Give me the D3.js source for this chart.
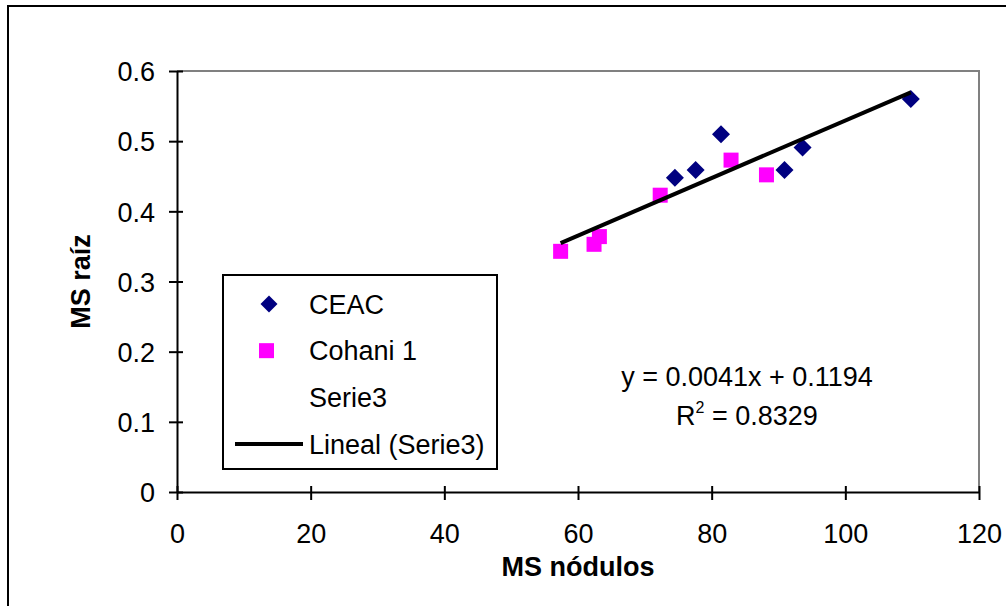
<!DOCTYPE html>
<html>
<head>
<meta charset="utf-8">
<script src="https://cdn.jsdelivr.net/npm/d3@7"></script>
<style>
  body { margin: 0; background: #fff; }
  svg { display: block; font-family: "Liberation Sans", Arial, sans-serif; }
</style>
</head>
<body>
<svg id="chart" width="1006" height="606"></svg>
<script>
// MS raiz vs MS nodulos -- scatter with linear trend

var ceacX = [74.5, 77.6, 81.4, 90.9, 93.6, 109.8];
var ceacY = [0.448, 0.459, 0.510, 0.459, 0.491, 0.560];

var cohaniX = [57.4, 62.4, 63.2, 72.3, 82.9, 88.2];
var cohaniY = [0.343, 0.353, 0.364, 0.423, 0.473, 0.452];

// trendline of Serie3 (both groups together), as printed on the chart
var trendSlope = 0.0041;
var trendIntercept = 0.1194;
var trendR2 = 0.8329;

var xTicks = [0, 20, 40, 60, 80, 100, 120];
var yTicks = [0, 0.1, 0.2, 0.3, 0.4, 0.5, 0.6];

var legendLabels = ["CEAC", "Cohani 1", "Serie3", "Lineal (Serie3)"];

// plot area edges (don't call these top/left -- window.top is taken)
var plotL = 177, plotR = 979, plotT = 71, plotB = 492;
var fontSize = "27px";

var svg = d3.select("#chart");

// outer chart frame (runs off the picture on right and bottom)
svg.append("rect")
  .attr("x", 8).attr("y", 6)
  .attr("width", 1010).attr("height", 620)
  .attr("fill", "#fff")
  .attr("stroke", "#000")
  .attr("stroke-width", 2);

var x = d3.scaleLinear().domain([0, 120]).range([plotL, plotR]);
var y = d3.scaleLinear().domain([0, 0.6]).range([plotB, plotT]);

// plot area border, grey on top and right
svg.append("path")
  .attr("d", "M" + plotL + "," + plotT + "H" + plotR + "V" + plotB)
  .attr("fill", "none")
  .attr("stroke", "#808080")
  .attr("stroke-width", 2);

///////////////////////////////////////////////////////////////////////////////
// Axes

var xAxis = svg.append("g")
  .attr("transform", "translate(0," + plotB + ")")
  .call(d3.axisBottom(x).tickValues(xTicks).tickSizeOuter(0).tickPadding(14));
xAxis.selectAll(".tick line").attr("y1", -6).attr("y2", 8);

var yAxis = svg.append("g")
  .attr("transform", "translate(" + plotL + ",0)")
  .call(d3.axisLeft(y).tickValues(yTicks).tickSizeOuter(0).tickPadding(14)
    .tickFormat(function (d) { return d === 0 ? "0" : d3.format(".1f")(d); }));
yAxis.selectAll(".tick line").attr("x1", -8).attr("x2", 6);

svg.selectAll(".domain, .tick line").attr("stroke", "#000").attr("stroke-width", 2);
svg.selectAll(".tick text")
  .attr("fill", "#000")
  .style("font-size", fontSize)
  .style("font-family", "'Liberation Sans', Arial, sans-serif");
yAxis.selectAll(".tick text").attr("x", -22).attr("dy", "0.36em");
xAxis.selectAll(".tick text").attr("y", 27).attr("dy", "0.9em");

svg.append("text")
  .attr("x", (plotL + plotR) / 2).attr("y", 576)
  .attr("text-anchor", "middle")
  .style("font-size", fontSize).style("font-weight", "bold")
  .text("MS nódulos");

svg.append("text")
  .attr("transform", "translate(90," + ((plotT + plotB) / 2) + ") rotate(-90)")
  .attr("text-anchor", "middle")
  .style("font-size", fontSize).style("font-weight", "bold")
  .text("MS raíz");

///////////////////////////////////////////////////////////////////////////////
// Points

var diamond = function (s) {
  return "M0," + (-s) + "L" + s + ",0L0," + s + "L" + (-s) + ",0Z";
};

svg.append("g").selectAll("path")
  .data(d3.zip(ceacX, ceacY))
  .join("path")
  .attr("d", diamond(9))
  .attr("transform", function (d) { return "translate(" + x(d[0]) + "," + y(d[1]) + ")"; })
  .attr("fill", "#000080");

svg.append("g").selectAll("rect")
  .data(d3.zip(cohaniX, cohaniY))
  .join("rect")
  .attr("x", function (d) { return x(d[0]) - 7.5; })
  .attr("y", function (d) { return y(d[1]) - 7.5; })
  .attr("width", 15).attr("height", 15)
  .attr("fill", "#ff00ff");

// trend line across the range of all points
var allX = ceacX.concat(cohaniX);
var trendEnds = d3.extent(allX).map(function (v) { return [v, trendSlope * v + trendIntercept]; });

svg.append("path")
  .datum(trendEnds)
  .attr("d", d3.line().x(function (d) { return x(d[0]); }).y(function (d) { return y(d[1]); }))
  .attr("stroke", "#000")
  .attr("stroke-width", 4)
  .attr("fill", "none");

// equation label
var eq = svg.append("text")
  .attr("text-anchor", "middle")
  .style("font-size", fontSize);
eq.append("tspan").attr("x", 747).attr("y", 386)
  .text("y = " + trendSlope + "x + " + trendIntercept);
var r2 = eq.append("tspan").attr("x", 747).attr("y", 425);
r2.append("tspan").text("R");
r2.append("tspan").attr("dy", -12).style("font-size", "16px").text("2");
r2.append("tspan").attr("dy", 12).text(" = " + trendR2);

///////////////////////////////////////////////////////////////////////////////
// Legend

var legend = svg.append("g");
legend.append("rect")
  .attr("x", 223).attr("y", 275)
  .attr("width", 274).attr("height", 194)
  .attr("fill", "#fff")
  .attr("stroke", "#000")
  .attr("stroke-width", 2);

var rowY = d3.scalePoint().domain(legendLabels).range([304, 444]);

legend.selectAll("text")
  .data(legendLabels)
  .join("text")
  .attr("x", 309)
  .attr("y", function (d) { return rowY(d); })
  .attr("dy", "0.36em")
  .style("font-size", fontSize)
  .text(function (d) { return d; });

legend.append("path")
  .attr("d", diamond(8.5))
  .attr("transform", "translate(269," + rowY(legendLabels[0]) + ")")
  .attr("fill", "#000080");
legend.append("rect")
  .attr("x", 259).attr("y", rowY(legendLabels[1]) - 7.5)
  .attr("width", 15).attr("height", 15)
  .attr("fill", "#ff00ff");
legend.append("line")
  .attr("x1", 235).attr("x2", 303)
  .attr("y1", rowY(legendLabels[3])).attr("y2", rowY(legendLabels[3]))
  .attr("stroke", "#000").attr("stroke-width", 4);
</script>
</body>
</html>
